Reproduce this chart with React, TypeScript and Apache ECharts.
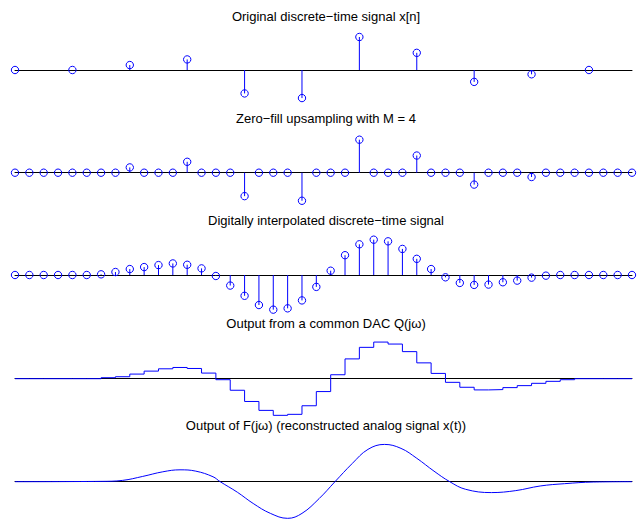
import React, { useEffect, useRef } from 'react';
import * as echarts from 'echarts';

const titles = [
  'Original discrete\u2212time signal x[n]',
  'Zero\u2212fill upsampling with M = 4',
  'Digitally interpolated discrete\u2212time signal',
  'Output from a common DAC Q(j\u03c9)',
  'Output of F(j\u03c9) (reconstructed analog signal x(t))',
];

const M = 4;
const originalN = [0, 1, 2, 3, 4, 5, 6, 7, 8, 9, 10];
const originalX = [0, 0, 0.15, 0.32, -0.71, -0.85, 1.0, 0.52, -0.36, -0.13, 0];

const upsampled = [
  0, 0, 0, 0, 0, 0, 0, 0, 0.16, 0, 0, 0, 0.33, 0, 0, 0,
  -0.71, 0, 0, 0, -0.85, 0, 0, 0, 1.0, 0, 0, 0, 0.52, 0, 0, 0,
  -0.36, 0, 0, 0, -0.13, 0, 0, 0, 0, 0, 0, 0,
];

const interpolated = [
  0, 0, 0, 0, 0, 0, 0.02, 0.09, 0.18, 0.24, 0.30, 0.35, 0.31, 0.20, -0.03, -0.32,
  -0.63, -0.91, -1.05, -1.01, -0.77, -0.36, 0.13, 0.60, 0.93, 1.07, 1.02, 0.79, 0.49, 0.18, -0.07, -0.24,
  -0.30, -0.29, -0.22, -0.17, -0.08, -0.02, 0, 0, 0, 0, 0, 0,
];

const dacLevels = [
  0, 0, 0, 0, 0, 0, 0.03, 0.06, 0.14, 0.23, 0.30, 0.34, 0.31, 0.17, -0.03, -0.35,
  -0.69, -0.96, -1.11, -1.08, -0.82, -0.39, 0.12, 0.60, 0.95, 1.11, 1.05, 0.82, 0.48, 0.16, -0.11, -0.26,
  -0.34, -0.33, -0.27, -0.21, -0.14, -0.08, -0.03, 0, 0, 0, 0, 0,
];

const analogT = [
  0, 6, 7.5, 8.9, 10.3, 11.5, 12.6, 13.8, 14.3, 15.5, 16.6, 17.8, 19, 20, 21.2,
  22.3, 23.5, 24.6, 25.75, 26.9, 28, 29.2, 30.3, 31.4, 33.2, 34.9, 36.6, 38.3, 40.3, 43,
];
const analogY = [
  0, 0.01, 0.04, 0.16, 0.30, 0.36, 0.32, 0.15, 0, -0.32, -0.66, -0.96, -1.11, -0.96, -0.51,
  0, 0.55, 0.98, 1.13, 1.01, 0.71, 0.32, 0, -0.23, -0.33, -0.27, -0.13, -0.06, -0.01, 0,
];

const baselines = [70, 172.7, 275, 378.7, 481.7];
const titleY = [16.7, 118.3, 220, 323.3, 425];
const BLUE = '#0000ff';

export default function App() {
  const ref = useRef<HTMLDivElement>(null);
  useEffect(() => {
    if (!ref.current) return;
    const chart = echarts.init(ref.current, undefined, { renderer: 'svg' });
    const range = 1.2;
    const pxPerUnit = 33;
    const grids = baselines.map((b) => ({
      left: 15,
      width: 617,
      top: b - range * pxPerUnit,
      height: 2 * range * pxPerUnit,
    }));
    const xAxes = baselines.map((_, i) => ({
      type: 'value',
      gridIndex: i,
      min: 0,
      max: 43,
      axisLine: { show: true, onZero: true, lineStyle: { color: '#000', width: 1 } },
      axisTick: { show: false },
      axisLabel: { show: false },
      splitLine: { show: false },
    }));
    const yAxes = baselines.map((_, i) => ({
      type: 'value',
      gridIndex: i,
      min: -range,
      max: range,
      axisLine: { show: false },
      axisTick: { show: false },
      axisLabel: { show: false },
      splitLine: { show: false },
    }));
    const stemRender = (params: any, api: any) => {
      const x = api.value(0);
      const y = api.value(1);
      const p0 = api.coord([x, 0]);
      const p1 = api.coord([x, y]);
      return {
        type: 'group',
        children: [
          {
            type: 'line',
            shape: { x1: p0[0], y1: p0[1], x2: p1[0], y2: p1[1] },
            style: { stroke: BLUE, lineWidth: 1 },
          },
          {
            type: 'circle',
            shape: { cx: p1[0], cy: p1[1], r: 3.7 },
            style: { fill: 'none', stroke: BLUE, lineWidth: 1 },
          },
        ],
      };
    };
    const stemSeries = (gi: number, data: number[][]) => ({
      type: 'custom',
      xAxisIndex: gi,
      yAxisIndex: gi,
      renderItem: stemRender,
      data,
      z: 3,
    });
    const option: any = {
      animation: false,
      backgroundColor: '#fff',
      grid: grids,
      xAxis: xAxes,
      yAxis: yAxes,
      graphic: titles.map((t, i) => ({
        type: 'text',
        x: 326,
        y: titleY[i],
        style: {
          text: t,
          fill: '#000',
          font: '13px "Liberation Sans", Arial, sans-serif',
          textAlign: 'center',
          textVerticalAlign: 'middle',
        },
      })),
      series: [
        stemSeries(0, originalN.map((n, i) => [n * M, originalX[i]])),
        stemSeries(1, upsampled.map((v, i) => [i, v])),
        stemSeries(2, interpolated.map((v, i) => [i, v])),
        {
          type: 'line',
          xAxisIndex: 3,
          yAxisIndex: 3,
          step: 'end',
          symbol: 'none',
          data: dacLevels.map((v, i) => [i, v]),
          lineStyle: { color: BLUE, width: 1 },
        },
        {
          type: 'line',
          xAxisIndex: 4,
          yAxisIndex: 4,
          smooth: 0.4,
          symbol: 'none',
          data: analogT.map((t, i) => [t, analogY[i]]),
          lineStyle: { color: BLUE, width: 1 },
        },
      ],
    };
    chart.setOption(option);
    return () => chart.dispose();
  }, []);
  return (
    <div
      ref={ref}
      style={{ position: 'fixed', left: 0, top: 0, width: 638, height: 523, background: '#fff' }}
    />
  );
}
